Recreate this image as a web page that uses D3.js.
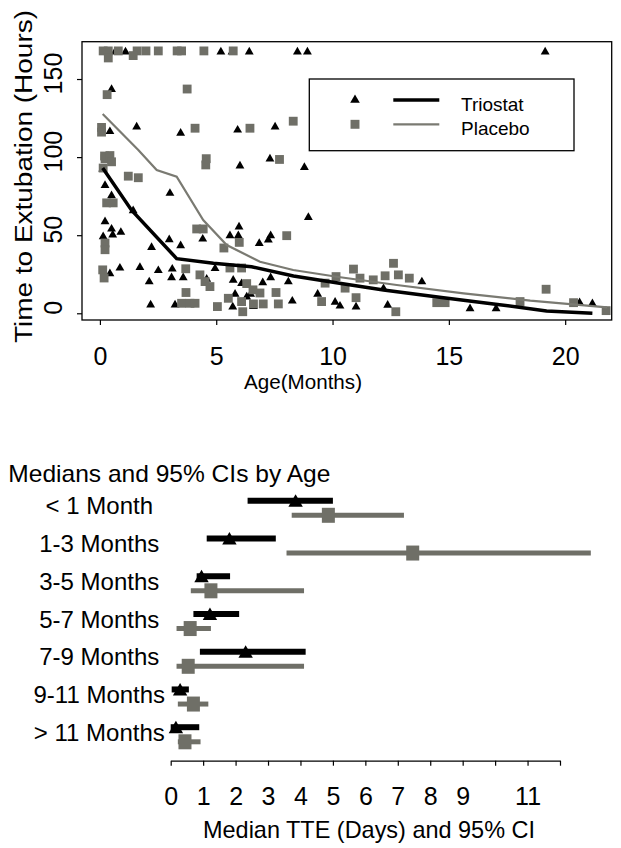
<!DOCTYPE html>
<html>
<head>
<meta charset="utf-8">
<script src="https://cdn.jsdelivr.net/npm/d3@7"></script>
<style>
  body { margin: 0; background: #fff; }
  svg { display: block; }
  text { font-family: "Liberation Sans", Arial, Helvetica, sans-serif; fill: #000; }
</style>
</head>
<body>
<svg id="chart" width="621" height="848"></svg>
<script>
// ---------- scatter: [age in months, hours to extubation]
var triostatPts = [
  [0.65,168],[1.1,168],[5.2,168],[5.68,168],[6.42,168],[8.49,168],[8.92,168],[19.14,168],
  [0.5,144],[0.43,117],[1.58,120],[3.47,116],[5.92,118],[7.53,120],[7.31,99.5],
  [0.12,93],[6.02,95],[8.79,94],[0.22,82.5],[0.5,76],[3.01,77.5],[1.43,66.4],
  [0.22,59.3],[0.5,54.6],[0.9,52.5],[0.14,49.7],[0.55,50.8],[8.96,62],[5.98,56],
  [5.59,50.3],[5.95,50.3],[7.34,50.3],[7.24,47.6],[6.85,45.4],[2.98,47.8],[3.47,43.9],
  [4.42,48.2],[2.22,42.8],[0.43,26],[0.86,29.6],[1.72,30],[2.51,28],[2.12,20.8],
  [3.11,29],[3.08,23.4],[3.58,23.4],[4.59,22.5],[2.18,6],[3.23,6],[4.95,29.3],
  [5.73,21.9],[6.09,19.7],[5.81,12.9],[6.31,11.1],[6.48,12.9],[7.0,20.3],[7.34,23.5],
  [5.71,4.7],[6.6,5],[8.27,8.5],[8.1,20.8],[9.36,12.9],[10.11,7.8],[13.84,20.8],
  [12.19,16.5],[10.32,5.3],[11.01,4.7],[12.37,5.8],[15.91,3.6],[17.03,3.6],
  [20.62,7.5],[21.17,6.8]
];
var placeboPts = [
  [0.14,168],[0.36,168],[0.79,168],[1.6,168],[1.98,168],[2.51,168],[3.32,168],
  [3.51,168],[4.47,168],[5.73,168],[1.43,165],[0.36,163.5],
  [0.31,140],[3.75,143.6],[0.07,119],[0.07,116],[4.09,118.5],[6.45,118.5],[8.31,123],
  [0.2,100.7],[4.57,99],[7.72,98.5],[0.22,99],[0.43,101],[0.5,97],[0.14,93],[4.55,95],
  [1.22,87.8],[1.65,86.8],[0.29,70.7],[0.57,70.7],[0.22,45],[0.22,40.7],[4.16,54],
  [4.44,54],[8.03,49.7],[5.99,45.4],[5.33,41.8],[0.12,27.8],[0.18,22.6],[3.69,28.5],
  [4.3,24.6],[4.52,20.3],[4.73,17.1],[3.7,13.3],[3.51,6.4],[3.87,6.4],[4.09,6.4],
  [5.05,4.3],[5.59,29],[6.09,29],[6.31,19],[6.58,15],[6.88,13],[7.57,13.3],[5.52,9.6],
  [6.09,7.5],[6.14,1],[6.6,6],[7.02,6],[7.67,6],[9.53,7.5],[9.68,19.3],[10.15,23.5],
  [10.9,28.3],[11.18,22.5],[10.54,16.1],[11.75,21.4],[12.26,24],[12.62,32],[12.83,24.6],
  [13.3,22.5],[11.01,10],[12.72,1],[14.48,6.8],[14.84,6.8],[19.18,15.4],[18.06,7.5],
  [20.36,6.8],[21.76,1.7]
];
// smoothed curves
var triostatCurve = [[0.12,93],[1.36,66],[3.3,35],[4.88,32],[6.52,29.8],[8.32,23.9],
  [10.3,19.2],[12.19,14.9],[14.77,10],[16.92,6],[19.2,1.5],[21.17,0]];
var placeboCurve = [[0.12,127.6],[1.65,104.5],[2.44,91.7],[3.3,87.5],[4.44,59.7],
  [5.45,43.7],[6.88,33],[8.31,27.7],[10.18,23.4],[12.76,18.1],[15.63,12.8],[18.5,8.1],[21.8,3.8]];

var ageTicks = [0, 5, 10, 15, 20];
var hourTicks = [0, 50, 100, 150];

// ---------- forest plot: medians and 95% CI in days
var ageGroups = ["< 1 Month", "1-3 Months", "3-5 Months", "5-7 Months", "7-9 Months", "9-11 Months", "> 11 Months"];
var triMed = [3.85, 1.81, 0.95, 1.21, 2.31, 0.29, 0.16];
var triLo  = [2.37, 1.11, 0.80, 0.70, 0.90, 0.03, 0.00];
var triHi  = [5.00, 3.24, 1.83, 2.11, 4.16, 0.56, 0.88];
var plaMed = [4.86, 7.46, 1.24, 0.60, 0.54, 0.70, 0.44];
var plaLo  = [3.73, 3.57, 0.62, 0.18, 0.18, 0.22, 0.22];
var plaHi  = [7.19, 12.95, 4.11, 1.24, 4.11, 1.16, 0.92];
var dayTicks = d3.range(0, 13);
var dayLabels = [0, 1, 2, 3, 4, 5, 6, 7, 8, 9, 11];

var GRAY = '#6f6f67';
var svg = d3.select('#chart');

// ================= scatter =================
var x = d3.scaleLinear().domain([-0.77, 22.0]).range([82, 611.7]);
var y = d3.scaleLinear().domain([-4.3, 173.9]).range([320, 41.7]);

var scatter = svg.append('g');

var triSym = d3.symbol().type(d3.symbolTriangle).size(34);
var sqSym = d3.symbol().type(d3.symbolSquare).size(78);

scatter.selectAll('.tri')
  .data(triostatPts)
  .enter().append('path')
  .attr('class', 'tri')
  .attr('d', triSym)
  .attr('transform', function(d) { return 'translate(' + x(d[0]) + ',' + (y(d[1]) + 1) + ')' })
  .attr('fill', '#000');

scatter.selectAll('.sq')
  .data(placeboPts)
  .enter().append('path')
  .attr('class', 'sq')
  .attr('d', sqSym)
  .attr('transform', function(d) { return 'translate(' + x(d[0]) + ',' + y(d[1]) + ')' })
  .attr('fill', GRAY);

var line = d3.line()
  .x(function(d) { return x(d[0]) })
  .y(function(d) { return y(d[1]) });

scatter.append('path')
  .datum(placeboCurve)
  .attr('d', line)
  .attr('fill', 'none')
  .attr('stroke', '#7a7a72')
  .attr('stroke-width', 2.2);

scatter.append('path')
  .datum(triostatCurve)
  .attr('d', line)
  .attr('fill', 'none')
  .attr('stroke', '#000')
  .attr('stroke-width', 3.5);

// frame
scatter.append('rect')
  .attr('x', 82).attr('y', 41.7)
  .attr('width', 611.7 - 82).attr('height', 320 - 41.7)
  .attr('fill', 'none').attr('stroke', '#000').attr('stroke-width', 1.3);

// axes
var xAxis = scatter.append('g')
  .attr('transform', 'translate(0,320)')
  .call(d3.axisBottom(x).tickValues(ageTicks).tickSize(5).tickSizeOuter(0));
xAxis.select('.domain').remove();
xAxis.selectAll('line').attr('stroke', '#000').attr('stroke-width', 1.2);
xAxis.selectAll('text')
  .attr('y', 45).attr('dy', 0)
  .attr('font-size', 25)
  .style('font-family', '"Liberation Sans", Arial, sans-serif')
  .attr('fill', '#000');

var yAxis = scatter.append('g')
  .attr('transform', 'translate(82,0)')
  .call(d3.axisLeft(y).tickValues(hourTicks).tickSize(5).tickSizeOuter(0));
yAxis.select('.domain').remove();
yAxis.selectAll('line').attr('stroke', '#000').attr('stroke-width', 1.2);
yAxis.selectAll('text')
  .attr('transform', 'rotate(-90)')
  .attr('x', 6).attr('y', -20).attr('dy', 0)
  .attr('text-anchor', 'middle')
  .attr('font-size', 25)
  .style('font-family', '"Liberation Sans", Arial, sans-serif')
  .attr('fill', '#000');

scatter.append('text')
  .attr('transform', 'translate(32,176.5) rotate(-90)')
  .attr('text-anchor', 'middle')
  .attr('font-size', 23)
  .attr('textLength', 333).attr('lengthAdjust', 'spacingAndGlyphs')
  .text('Time to Extubation (Hours)');

scatter.append('text')
  .attr('x', 303).attr('y', 389)
  .attr('text-anchor', 'middle')
  .attr('font-size', 19.5)
  .attr('textLength', 118).attr('lengthAdjust', 'spacingAndGlyphs')
  .text('Age(Months)');

// legend
var legend = scatter.append('g');
legend.append('rect')
  .attr('x', 309.3).attr('y', 79).attr('width', 574 - 309.3).attr('height', 150.7 - 79)
  .attr('fill', '#fff').attr('stroke', '#000').attr('stroke-width', 1.3);
var legendItems = [
  { label: 'Triostat', sym: d3.symbol().type(d3.symbolTriangle).size(40), fill: '#000', stroke: '#000', sw: 3.3 },
  { label: 'Placebo', sym: d3.symbol().type(d3.symbolSquare).size(80), fill: GRAY, stroke: '#7a7a72', sw: 2.2 }
];
var li = legend.selectAll('.item').data(legendItems).enter().append('g')
  .attr('class', 'item')
  .attr('transform', function(d, i) { return 'translate(0,' + (100 + i * 24.3) + ')' });
li.append('path').attr('d', function(d) { return d.sym() })
  .attr('transform', 'translate(355,0)')
  .attr('fill', function(d) { return d.fill });
li.append('line').attr('x1', 393.3).attr('x2', 439.3)
  .attr('stroke', function(d) { return d.stroke })
  .attr('stroke-width', function(d) { return d.sw });
li.append('text').attr('x', 461).attr('y', 11)
  .attr('font-size', 19)
  .text(function(d) { return d.label });

// ================= forest plot =================
var xb = d3.scaleLinear().domain([0, 12]).range([170.7, 560]);
var row = d3.scalePoint().domain(ageGroups).range([508, 734.5]);

var forest = svg.append('g');

forest.append('text')
  .attr('x', 8.3).attr('y', 481.7)
  .attr('font-size', 24)
  .attr('textLength', 322).attr('lengthAdjust', 'spacingAndGlyphs')
  .text('Medians and 95% CIs by Age');

forest.selectAll('.rowlab')
  .data(ageGroups)
  .enter().append('text')
  .attr('class', 'rowlab')
  .attr('x', 99.3)
  .attr('y', function(d) { return row(d) + 6.3 })
  .attr('text-anchor', 'middle')
  .attr('font-size', 24)
  .text(function(d) { return d });

var rows = ageGroups.map(function(g, i) {
  return { g: g, tm: triMed[i], tl: triLo[i], th: triHi[i], pm: plaMed[i], pl: plaLo[i], ph: plaHi[i] };
});

forest.selectAll('.tbar').data(rows).enter().append('line')
  .attr('x1', function(d) { return xb(d.tl) })
  .attr('x2', function(d) { return xb(d.th) })
  .attr('y1', function(d) { return row(d.g) - 7.3 })
  .attr('y2', function(d) { return row(d.g) - 7.3 })
  .attr('stroke', '#000').attr('stroke-width', 6);

forest.selectAll('.pbar').data(rows).enter().append('line')
  .attr('x1', function(d) { return xb(d.pl) })
  .attr('x2', function(d) { return xb(d.ph) })
  .attr('y1', function(d) { return row(d.g) + 7.3 })
  .attr('y2', function(d) { return row(d.g) + 7.3 })
  .attr('stroke', GRAY).attr('stroke-width', 5);

// triangle roughly centred on its bar, like the reference
forest.selectAll('.tmed').data(rows).enter().append('path')
  .attr('d', d3.symbol().type(d3.symbolTriangle).size(90))
  .attr('transform', function(d) { return 'translate(' + xb(d.tm) + ',' + (row(d.g) - 5.5) + ')' })
  .attr('fill', '#000');

forest.selectAll('.pmed').data(rows).enter().append('rect')
  .attr('x', function(d) { return xb(d.pm) - 6.5 })
  .attr('y', function(d) { return row(d.g) + 7.3 - 7.5 })
  .attr('width', 13).attr('height', 15)
  .attr('fill', GRAY);

var bAxis = forest.append('g')
  .attr('transform', 'translate(0,760.7)')
  .call(d3.axisBottom(xb).tickValues(dayTicks).tickSize(5).tickSizeOuter(0)
    .tickFormat(function(d) { return dayLabels.indexOf(d) >= 0 ? d : '' }));
bAxis.select('.domain').attr('stroke', '#000').attr('stroke-width', 1.3);
bAxis.selectAll('line').attr('stroke', '#000').attr('stroke-width', 1.2);
bAxis.selectAll('text')
  .attr('y', 44.3).attr('dy', 0)
  .attr('font-size', 25)
  .style('font-family', '"Liberation Sans", Arial, sans-serif')
  .attr('fill', '#000');

forest.append('text')
  .attr('x', 369).attr('y', 838.3)
  .attr('text-anchor', 'middle')
  .attr('font-size', 24)
  .attr('textLength', 332).attr('lengthAdjust', 'spacingAndGlyphs')
  .text('Median TTE (Days) and 95% CI');
</script>
</body>
</html>
